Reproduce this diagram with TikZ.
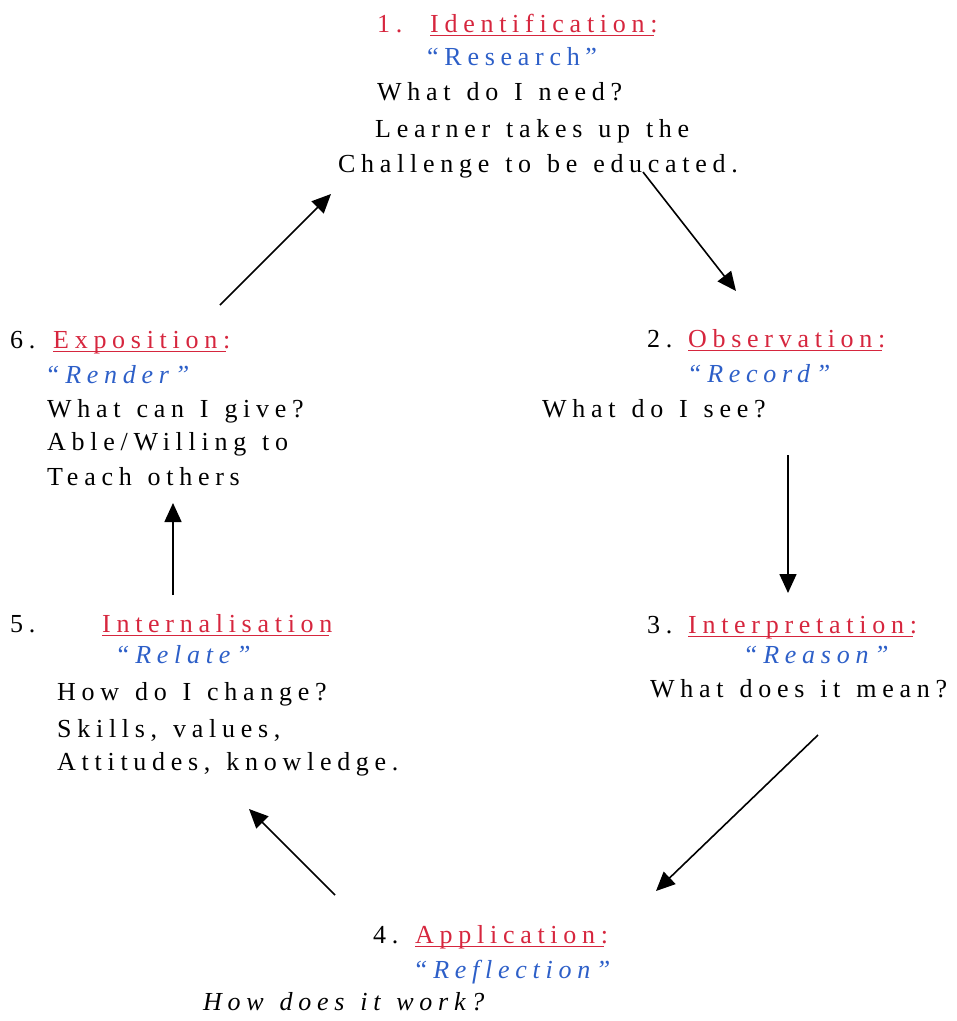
\documentclass[tikz,border=0pt]{standalone}
\usepackage{fontspec}
\setmainfont[LetterSpace=22, WordSpace=1.3]{Liberation Serif}
\usetikzlibrary{arrows.meta}
\definecolor{stagered}{RGB}{214,38,62}
\definecolor{keyblue}{RGB}{45,95,200}

\begin{document}
\begin{tikzpicture}[
  x=1pt, y=-1pt,
  txt/.style={anchor=base west, inner sep=0pt, font=\fontsize{26}{30}\selectfont},
  stage/.style={txt, text=stagered},
  key/.style={txt, text=keyblue, font=\fontsize{26}{30}\selectfont\itshape},
  flow/.style={-{Triangle[length=19pt,width=17pt]}, line width=1.6pt},
  uline/.style={stagered, line width=1.1pt}
]
  \useasboundingbox (0,0) rectangle (957,1021);

  % 1. Identification (oben)
  \node[stage] (n1) at (377,32) {1.};
  \node[stage] (t1) at (430,32) {Identification:};
  \node[key, font=\fontsize{26}{30}\selectfont] (q1) at (427,65) {“Research”};
  \node[txt] (l1a) at (377,100) {What do I need?};
  \node[txt] (l1b) at (375,137) {Learner takes up the};
  \node[txt] (l1c) at (338,172) {Challenge to be educated.};

  % 2. Observation (rechts oben)
  \node[txt] (n2) at (647,347) {2.};
  \node[stage] (t2) at (688,347) {Observation:};
  \node[key] (q2) at (687,382) {“Record”};
  \node[txt] (l2a) at (542,417) {What do I see?};

  % 3. Interpretation (rechts unten)
  \node[txt] (n3) at (647,633) {3.};
  \node[stage] (t3) at (688,633) {Interpretation:};
  \node[key] (q3) at (743,663) {“Reason”};
  \node[txt] (l3a) at (650,697) {What does it mean?};

  % 4. Application (unten)
  \node[txt] (n4) at (373,943) {4.};
  \node[stage] (t4) at (415,943) {Application:};
  \node[key] (q4) at (413,978) {“Reflection”};
  \node[txt, font=\fontsize{26}{30}\selectfont\itshape] (l4a) at (203,1010) {How does it work?};

  % 5. Internalisation (links unten)
  \node[txt] (n5) at (10,632) {5.};
  \node[stage] (t5) at (102,632) {Internalisation};
  \node[key] (q5) at (115,663) {“Relate”};
  \node[txt] (l5a) at (57,700) {How do I change?};
  \node[txt] (l5b) at (57,737) {Skills, values,};
  \node[txt] (l5c) at (57,770) {Attitudes, knowledge.};

  % 6. Exposition (links oben)
  \node[txt] (n6) at (10,348) {6.};
  \node[stage] (t6) at (53,348) {Exposition:};
  \node[key] (q6) at (45,383) {“Render”};
  \node[txt] (l6a) at (47,417) {What can I give?};
  \node[txt] (l6b) at (47,450) {Able/Willing to};
  \node[txt] (l6c) at (47,485) {Teach others};

  % Unterstreichungen
  \foreach \t in {t1,t2,t3,t4,t5,t6}
    \draw[uline] ([yshift=-3.5pt]\t.base west) -- ([yshift=-3.5pt, xshift=-4pt]\t.base east);

  % Pfeilenden
  \coordinate (a12) at (643,172);  \coordinate (b12) at (736,291);
  \coordinate (a23) at (788,455);  \coordinate (b23) at (788,593);
  \coordinate (a34) at (818,735);  \coordinate (b34) at (656,891);
  \coordinate (a45) at (335,895);  \coordinate (b45) at (249,809);
  \coordinate (a56) at (173,595);  \coordinate (b56) at (173,503);
  \coordinate (a61) at (220,305);  \coordinate (b61) at (331,194);

  % Kreislauf
  \draw[flow] (a12) -- (b12);
  \draw[flow] (a23) -- (b23);
  \draw[flow] (a34) -- (b34);
  \draw[flow] (a45) -- (b45);
  \draw[flow] (a56) -- (b56);
  \draw[flow] (a61) -- (b61);

\end{tikzpicture}
\end{document}
